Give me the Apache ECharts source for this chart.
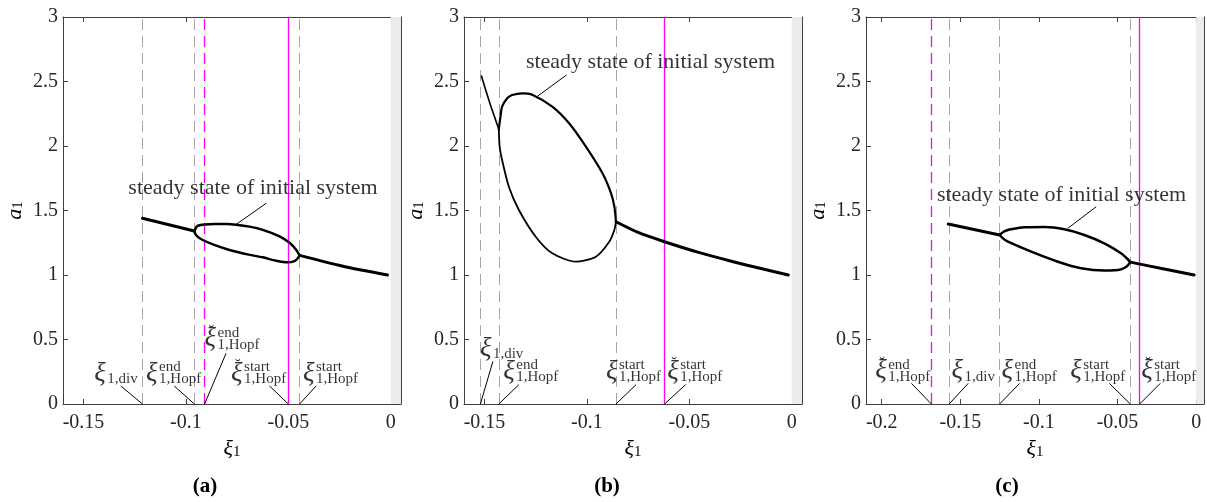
<!DOCTYPE html>
<html>
<head>
<meta charset="utf-8">
<title>steady state of initial system</title>
<script src="https://cdn.jsdelivr.net/npm/echarts@6/dist/echarts.min.js"></script>
<style>
  html, body { margin: 0; padding: 0; background: #fff; }
  #chart { width: 1207px; height: 502px; }
</style>
</head>
<body>
<div id="chart"></div>
<script>
const serif = "'Liberation Serif', 'DejaVu Serif', serif"

// axis ranges
const xMin = [-0.16, -0.16, -0.21]
const xMax = [0.005, 0.005, 0.005]
const xSplit = [3, 3, 4]
const yMin = 0
const yMax = 3
const yStep = 0.5
const panelNames = ['(a)', '(b)', '(c)']

// panel (a) branches [xi1, a1]
const aLeft = [[-0.1212, 1.440], [-0.0959, 1.341]]
const aUpper = [[-0.0959, 1.341], [-0.0950, 1.368], [-0.0942, 1.382], [-0.0909, 1.391], [-0.0860, 1.395],
  [-0.0800, 1.395], [-0.0755, 1.390], [-0.0690, 1.375], [-0.0625, 1.350], [-0.0543, 1.300],
  [-0.0494, 1.250], [-0.0462, 1.196], [-0.0445, 1.152]]
const aLower = [[-0.0959, 1.341], [-0.0951, 1.310], [-0.0927, 1.279], [-0.0862, 1.233], [-0.0787, 1.194],
  [-0.0700, 1.160], [-0.0625, 1.137], [-0.0560, 1.111], [-0.0502, 1.098], [-0.0470, 1.108],
  [-0.0455, 1.128], [-0.0445, 1.152]]
const aRight = [[-0.0445, 1.152], [-0.0233, 1.068], [-0.0016, 1.000]]

// panel (b) branches
const bLeft = [[-0.1515, 2.543], [-0.1497, 2.450], [-0.1479, 2.357], [-0.1454, 2.240], [-0.1430, 2.129]]
const bUpper = [[-0.1430, 2.129], [-0.1422, 2.227], [-0.1414, 2.305], [-0.1389, 2.370], [-0.1365, 2.395],
  [-0.1316, 2.408], [-0.1267, 2.398], [-0.1169, 2.305], [-0.1087, 2.176], [-0.1005, 1.995],
  [-0.0924, 1.789], [-0.0882, 1.633], [-0.0866, 1.530], [-0.0858, 1.413]]
const bLower = [[-0.1430, 2.129], [-0.1426, 1.995], [-0.1414, 1.891], [-0.1381, 1.684], [-0.1332, 1.504],
  [-0.1250, 1.297], [-0.1169, 1.168], [-0.1054, 1.103], [-0.0956, 1.142], [-0.0891, 1.258],
  [-0.0866, 1.349], [-0.0858, 1.413]]
const bRight = [[-0.0858, 1.413], [-0.0750, 1.330], [-0.0621, 1.258], [-0.0450, 1.173], [-0.0286, 1.103],
  [-0.0150, 1.050], [-0.0017, 1.000]]

// panel (c) branches
const cLeft = [[-0.1577, 1.395], [-0.1250, 1.310]]
const cUpper = [[-0.1250, 1.310], [-0.1225, 1.335], [-0.1197, 1.349], [-0.1140, 1.362], [-0.1091, 1.370],
  [-0.0964, 1.372], [-0.0838, 1.354], [-0.0711, 1.310], [-0.0584, 1.245], [-0.0478, 1.168],
  [-0.0440, 1.128], [-0.0419, 1.100]]
const cLower = [[-0.1250, 1.310], [-0.1225, 1.280], [-0.1197, 1.258], [-0.1049, 1.181], [-0.0879, 1.103],
  [-0.0732, 1.052], [-0.0584, 1.034], [-0.0520, 1.036], [-0.0478, 1.044], [-0.0440, 1.068],
  [-0.0419, 1.100]]
const cRight = [[-0.0419, 1.100], [-0.0203, 1.046], [-0.0013, 1.000]]

// vertical marker lines
const aGrayDash = [-0.1212, -0.0959, -0.0445]
const aPinkDash = [-0.0909]
const aPinkSolid = [-0.0500]
const bGrayDash = [-0.1520, -0.1430, -0.0858]
const bPinkDash = []
const bPinkSolid = [-0.0621]
const cGrayDash = [-0.1571, -0.1250, -0.0419]
const cPinkDash = [-0.1684]
const cPinkSolid = [-0.0359]

// labels: [left xi1, bottom a1, breve?, sup, sub]
const aMarks = [
  [-0.1440, 0.140, 0, '', '1,div'],
  [-0.1187, 0.140, 0, 'end', '1,Hopf'],
  [-0.0902, 0.410, 1, 'end', '1,Hopf'],
  [-0.0772, 0.140, 1, 'start', '1,Hopf'],
  [-0.0421, 0.140, 0, 'start', '1,Hopf']
]
const bMarks = [
  [-0.1515, 0.335, 0, '', '1,div'],
  [-0.1401, 0.155, 0, 'end', '1,Hopf'],
  [-0.0900, 0.155, 0, 'start', '1,Hopf'],
  [-0.0601, 0.155, 1, 'start', '1,Hopf']
]
const cMarks = [
  [-0.2032, 0.160, 1, 'end', '1,Hopf'],
  [-0.1546, 0.160, 0, '', '1,div'],
  [-0.1228, 0.160, 0, 'end', '1,Hopf'],
  [-0.0791, 0.160, 0, 'start', '1,Hopf'],
  [-0.0340, 0.160, 1, 'start', '1,Hopf']
]
// leader lines [from, to]
const aLeaders = [
  [[-0.1318, 0.14], [-0.1212, 0]], [[-0.1057, 0.14], [-0.0959, 0]], [[-0.0804, 0.393], [-0.0909, 0]],
  [[-0.0592, 0.14], [-0.0500, 0]], [[-0.0364, 0.14], [-0.0445, 0]], [[-0.0608, 1.556], [-0.0755, 1.392]]
]
const bLeaders = [
  [[-0.1459, 0.33], [-0.1520, 0]], [[-0.1332, 0.15], [-0.1430, 0]], [[-0.0760, 0.15], [-0.0858, 0]],
  [[-0.0518, 0.15], [-0.0621, 0]], [[-0.1100, 2.550], [-0.1242, 2.385]]
]
const cLeaders = [
  [[-0.1811, 0.16], [-0.1684, 0]], [[-0.1450, 0.16], [-0.1571, 0]], [[-0.1123, 0.16], [-0.1250, 0]],
  [[-0.0552, 0.16], [-0.0419, 0]], [[-0.0228, 0.16], [-0.0359, 0]], [[-0.0636, 1.529], [-0.0816, 1.362]]
]
const steadyText = 'steady state of initial system'
const aSteady = [-0.0670, 1.667]
const bSteady = [-0.0687, 2.649]
const cSteady = [-0.0853, 1.612]
const band = [0, 0.005]

const panels = [
  { curves: [aLeft, aUpper, aLower, aRight], widths: [3, 2.5, 2.5, 3], gray: aGrayDash, pinkDash: aPinkDash, pinkSolid: aPinkSolid, marks: aMarks, leaders: aLeaders, steady: aSteady },
  { curves: [bLeft, bUpper, bLower, bRight], widths: [1.6, 2.2, 1.8, 3], gray: bGrayDash, pinkDash: bPinkDash, pinkSolid: bPinkSolid, marks: bMarks, leaders: bLeaders, steady: bSteady },
  { curves: [cLeft, cUpper, cLower, cRight], widths: [3, 2.5, 2.5, 3], gray: cGrayDash, pinkDash: cPinkDash, pinkSolid: cPinkSolid, marks: cMarks, leaders: cLeaders, steady: cSteady }
]

const gridLeft = [63, 464, 866]
const frame = '#404040'
const labelRich = {
  xi: { fontFamily: serif, fontStyle: 'italic', fontSize: 27, lineHeight: 27, color: '#000' },
  br: { fontFamily: serif, fontSize: 17, lineHeight: 17, color: '#000' },
  sup: { fontFamily: serif, fontSize: 15, lineHeight: 12, color: '#000' },
  sub: { fontFamily: serif, fontSize: 15, lineHeight: 12, color: '#000' },
  txt: { fontFamily: serif, fontSize: 22, color: '#000' }
}
const nameRich = {
  it: { fontFamily: serif, fontStyle: 'italic', fontSize: 22, lineHeight: 22, color: '#000' },
  sb: { fontFamily: serif, fontSize: 15, lineHeight: 14, verticalAlign: 'bottom', color: '#000' }
}

const grid = []
const xAxis = []
const yAxis = []
const series = []
const graphic = []

panels.forEach((p, i) => {
  grid.push({ left: gridLeft[i], top: 17, width: 338, height: 387, outerBoundsMode: 'none' })
  const tick = { show: true, inside: true, length: 5, lineStyle: { color: frame } }
  const line = { show: true, onZero: false, lineStyle: { color: frame, width: 1 } }
  xAxis.push({
    type: 'value', gridIndex: i, min: xMin[i], max: xMax[i], splitNumber: xSplit[i], position: 'bottom',
    axisLine: line, axisTick: tick, splitLine: { show: false },
    axisLabel: { showMinLabel: false, showMaxLabel: false, margin: 9, fontFamily: serif, fontSize: 20, color: '#262626' },
    name: '{it|ξ}{sb|1}', nameLocation: 'middle', nameGap: 33, nameTextStyle: { rich: nameRich }
  })
  xAxis.push({
    type: 'value', gridIndex: i, min: xMin[i], max: xMax[i], splitNumber: xSplit[i], position: 'top',
    axisLine: line, axisTick: tick, splitLine: { show: false }, axisLabel: { show: false }
  })
  yAxis.push({
    type: 'value', gridIndex: i, min: yMin, max: yMax, interval: yStep, position: 'left',
    axisLine: line, axisTick: tick, splitLine: { show: false },
    axisLabel: { margin: 5, fontFamily: serif, fontSize: 20, color: '#262626' },
    name: '{it|a}{sb|1}', nameLocation: 'middle', nameRotate: 90, nameGap: 37, nameTextStyle: { rich: nameRich }
  })
  yAxis.push({
    type: 'value', gridIndex: i, min: yMin, max: yMax, interval: yStep, position: 'right',
    axisLine: line, axisTick: tick, splitLine: { show: false }, axisLabel: { show: false }
  })

  const axes = { xAxisIndex: i * 2, yAxisIndex: i * 2 }
  const vlines = []
  p.gray.forEach(v => vlines.push({ xAxis: v, lineStyle: { color: '#a6a6a6', width: 1, type: [11, 6] } }))
  p.pinkDash.forEach(v => vlines.push({ xAxis: v, lineStyle: { color: '#ff00ff', width: 1.3, type: [11, 6] } }))
  p.pinkSolid.forEach(v => vlines.push({ xAxis: v, lineStyle: { color: '#ff00ff', width: 1.3, type: 'solid' } }))

  p.curves.forEach((d, k) => {
    const s = Object.assign({
      type: 'line', data: d, showSymbol: false, smooth: 0.25, silent: true, z: 3,
      lineStyle: { color: '#000', width: p.widths[k], cap: 'round', join: 'round' }
    }, axes)
    if (k === 0) {
      s.markArea = { silent: true, z: 1, itemStyle: { color: '#ececec' }, data: [[{ xAxis: band[0] }, { xAxis: band[1] }]] }
      s.markLine = { silent: true, z: 2, precision: 6, symbol: ['none', 'none'], label: { show: false }, animation: false, data: vlines }
    }
    if (k === 1) {
      s.markLine = {
        silent: true, z: 4, precision: 6, symbol: ['none', 'none'], label: { show: false }, animation: false,
        lineStyle: { color: '#000', width: 1, type: 'solid' },
        data: p.leaders.map(l => [{ coord: l[0] }, { coord: l[1] }])
      }
    }
    series.push(s)
  })

  const items = [{ value: p.steady, txt: '{txt|' + steadyText + '}', label: { align: 'center', verticalAlign: 'middle' } }]
  p.marks.forEach(m => {
    items.push({ value: [m[0], m[1]], txt: '{xi|ξ}', label: { offset: [-1, 2] } })
    if (m[2]) items.push({ value: [m[0], m[1]], txt: '{br|˘}', label: { offset: [3, -11] } })
    items.push({ value: [m[0], m[1]], txt: (m[3] ? '{sup|' + m[3] + '}\n' : '') + '{sub|' + m[4] + '}', label: { offset: [12, 0] } })
  })
  series.push(Object.assign({
    type: 'scatter', symbolSize: 1, itemStyle: { color: 'transparent' }, silent: true, z: 6,
    label: { show: true, position: [0, 0], align: 'left', verticalAlign: 'bottom', formatter: q => q.data.txt, rich: labelRich },
    data: items
  }, axes))

  graphic.push({ type: 'text', x: [205, 607, 1007][i], y: 487, style: { text: panelNames[i], font: 'bold 21px ' + serif, fill: '#000', textAlign: 'center', textVerticalAlign: 'middle' } })
})

const chart = echarts.init(document.getElementById('chart'))
chart.setOption({ animation: false, backgroundColor: '#fff', grid, xAxis, yAxis, series, graphic })
</script>
</body>
</html>
